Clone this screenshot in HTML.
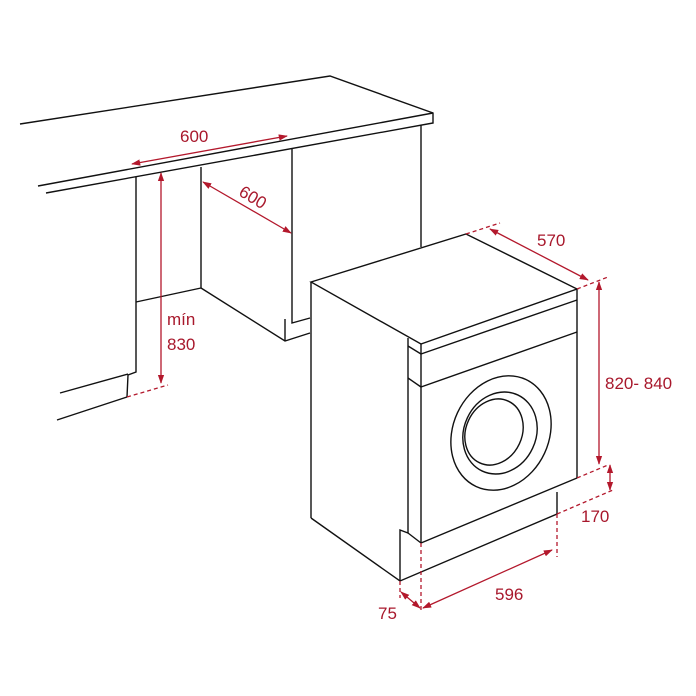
<!DOCTYPE html>
<html><head><meta charset="utf-8"><style>
html,body{margin:0;padding:0;background:#fff;}
svg{display:block;}
text{font-family:"Liberation Sans",sans-serif;fill:#a8182c;font-size:17px;}
</style></head><body>
<svg width="696" height="696" viewBox="0 0 696 696" xmlns="http://www.w3.org/2000/svg">
<defs>
<marker id="a" viewBox="0 0 10 10" refX="9" refY="5" markerWidth="7" markerHeight="7" orient="auto-start-reverse">
<path d="M0,1.5 L10,5 L0,8.5 z" fill="#b3182c"/></marker>
</defs>
<g fill="none" stroke="#111" stroke-width="1.4" stroke-linejoin="miter">
<!-- countertop -->
<polyline points="20,124 330,76 433,113 433,123 46,193"/>
<line x1="38" y1="186" x2="433" y2="113"/>
<line x1="421" y1="125" x2="421" y2="247"/>
<!-- left cabinet -->
<polyline points="136,177 136,372 128,375 127,397"/>
<line x1="60" y1="393" x2="128" y2="374"/>
<line x1="57" y1="420" x2="127" y2="397"/>
<line x1="136" y1="302" x2="201" y2="288"/>
<line x1="201" y1="167" x2="201" y2="288"/>
<polyline points="201,288 285,341 310,333"/>
<polyline points="292,149 292,323 310,318"/>
<line x1="285" y1="319" x2="285" y2="341"/>
<!-- washer -->
<polygon points="311,282 466,234 577,289 421,344" fill="#fff"/>
<line x1="311" y1="282" x2="311" y2="518"/>
<polyline points="311,518 400,581 557,514 557,492"/>
<polyline points="408,338 408,533 400,530 400,581"/>
<line x1="408" y1="533" x2="421" y2="543"/>
<line x1="421" y1="344" x2="421" y2="543"/>
<line x1="421" y1="354" x2="577" y2="300"/>
<line x1="577" y1="289" x2="577" y2="478"/>
<line x1="408" y1="378" x2="421" y2="387"/>
<line x1="421" y1="387" x2="577" y2="332"/>
<line x1="421" y1="543" x2="577" y2="478"/>
<line x1="408" y1="346" x2="421" y2="354"/>
<ellipse cx="501" cy="433" rx="48" ry="59" transform="rotate(25 501 433)"/>
<ellipse cx="500" cy="433" rx="36" ry="42" transform="rotate(25 500 433)"/>
<ellipse cx="494" cy="432" rx="28" ry="34" transform="rotate(25 494 432)"/>
</g>
<g fill="none" stroke="#b3182c" stroke-width="1.3">
<line x1="132" y1="164" x2="287" y2="136" marker-start="url(#a)" marker-end="url(#a)"/>
<line x1="203" y1="182" x2="291" y2="233" marker-start="url(#a)" marker-end="url(#a)"/>
<line x1="161" y1="173" x2="161" y2="383" marker-start="url(#a)" marker-end="url(#a)"/>
<line x1="490" y1="229" x2="588" y2="280" marker-start="url(#a)" marker-end="url(#a)"/>
<line x1="599" y1="282" x2="599" y2="464" marker-start="url(#a)" marker-end="url(#a)"/>
<line x1="610" y1="465" x2="610" y2="490" marker-start="url(#a)" marker-end="url(#a)"/>
<line x1="423" y1="608" x2="552" y2="550" marker-start="url(#a)" marker-end="url(#a)"/>
<line x1="401" y1="592" x2="420" y2="608" marker-start="url(#a)" marker-end="url(#a)"/>
<g stroke-dasharray="4,3">
<line x1="127" y1="397" x2="168" y2="385"/>
<line x1="466" y1="234" x2="500" y2="223"/>
<line x1="577" y1="289" x2="608" y2="277"/>
<line x1="577" y1="478" x2="608" y2="465"/>
<line x1="557" y1="514" x2="613" y2="490"/>
<line x1="557" y1="514" x2="557" y2="557"/>
<line x1="421" y1="543" x2="421" y2="610"/>
<line x1="400" y1="581" x2="400" y2="598"/>
</g>
</g>
<text x="180" y="142">600</text>
<text x="253" y="203" text-anchor="middle" transform="rotate(31 253 197)">600</text>
<text x="167" y="325">mín</text>
<text x="167" y="350">830</text>
<text x="537" y="246">570</text>
<text x="605" y="389">820- 840</text>
<text x="581" y="522">170</text>
<text x="495" y="600">596</text>
<text x="378" y="619">75</text>
</svg>
</body></html>
